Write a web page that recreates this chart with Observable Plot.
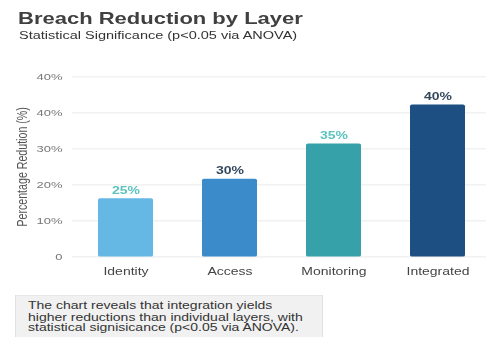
<!DOCTYPE html>
<html>
<head>
<meta charset="utf-8">
<script src="https://cdn.jsdelivr.net/npm/d3@7"></script>
<script src="https://cdn.jsdelivr.net/npm/@observablehq/plot@0.6"></script>
<style>
  html, body { margin: 0; padding: 0; background: #ffffff; overflow: hidden; }
  #stage {
    position: relative; width: 486px; height: 444px;
    transform: scaleY(0.76); transform-origin: 0 0;
    font-family: "Liberation Sans", Arial, Helvetica, sans-serif;
  }
  #title {
    position: absolute; left: 18px; top: 14px; margin: 0;
    font-size: 22px; line-height: 22px; font-weight: bold; color: #404040;
  }
  #subtitle {
    position: absolute; left: 19px; top: 39px; margin: 0;
    font-size: 14.5px; line-height: 15px; color: #333;
  }
  #chart { position: absolute; left: 0; top: 60px; }
  #caption {
    position: absolute; left: 15px; top: 388px; width: 282px;
    padding: 6px 12px 20px 12px; background: #f1f1f1; border: 1px solid #e2e2e2;
    font-size: 14px; line-height: 14.7px; color: #333;
  }
</style>
</head>
<body>
<div id="stage">
  <div id="title">Breach Reduction by Layer</div>
  <div id="subtitle">Statistical Significance (p&lt;0.05 via ANOVA)</div>
  <div id="chart"></div>
  <div id="caption">The chart reveals that integration yields<br>higher reductions than individual layers, with<br>statistical signisicance (p&lt;0.05 via ANOVA).</div>
</div>
<script>
const categories = ["Identity", "Access", "Monitoring", "Integrated"];
const values = [16.2, 21.6, 31.4, 42.2];
const valueLabels = ["25%", "30%", "35%", "40%"];
const barColors = ["#66b8e4", "#3b8bca", "#37a1aa", "#1d4f82"];
const labelColors = ["#5cc3bd", "#34495e", "#5cc3bd", "#34495e"];
const yTicks = [0, 10, 20, 30, 40, 50];
const yTickLabels = ["0", "10%", "20%", "30%", "40%", "40%"];
const yAxisLabel = "Percentage Redution (%)";

const data = categories.map((c, i) => ({
  category: c, value: values[i], label: valueLabels[i],
  color: barColors[i], labelColor: labelColors[i]
}));

const chart = Plot.plot({
  width: 486, height: 313,
  marginTop: 40.7, marginBottom: 35.5, marginLeft: 72, marginRight: 0,
  style: { fontFamily: "'Liberation Sans', Arial, sans-serif", background: "transparent", overflow: "visible" },
  x: { domain: categories, paddingInner: 0.471, paddingOuter: 0.207, align: 0.557, label: null },
  y: { domain: [0, 50], label: null },
  color: { type: "identity" },
  marks: [
    Plot.ruleY(yTicks, { stroke: "#e7e7e7", strokeWidth: 1 }),
    Plot.barY(data, { x: "category", y: "value", fill: "color", rx: 2 }),
    Plot.text(data, { x: "category", y: "value", text: "label", fill: "labelColor", dy: -11, fontSize: 14, fontWeight: "bold" }),
    Plot.axisX({ tickSize: 0, tickPadding: 13.5, fontSize: 14, color: "#444", label: null }),
    Plot.axisY({ ticks: yTicks, tickFormat: d => yTickLabels[yTicks.indexOf(d)], tickSize: 0, tickPadding: 10, fontSize: 13, color: "#777", label: null }),
    Plot.text([yAxisLabel], { text: d => d, frameAnchor: "left", textAnchor: "middle", lineAnchor: "middle", rotate: -90, dx: -50.3, fontSize: 14, fill: "#555" })
  ]
});
document.getElementById("chart").appendChild(chart);
</script>
</body>
</html>
